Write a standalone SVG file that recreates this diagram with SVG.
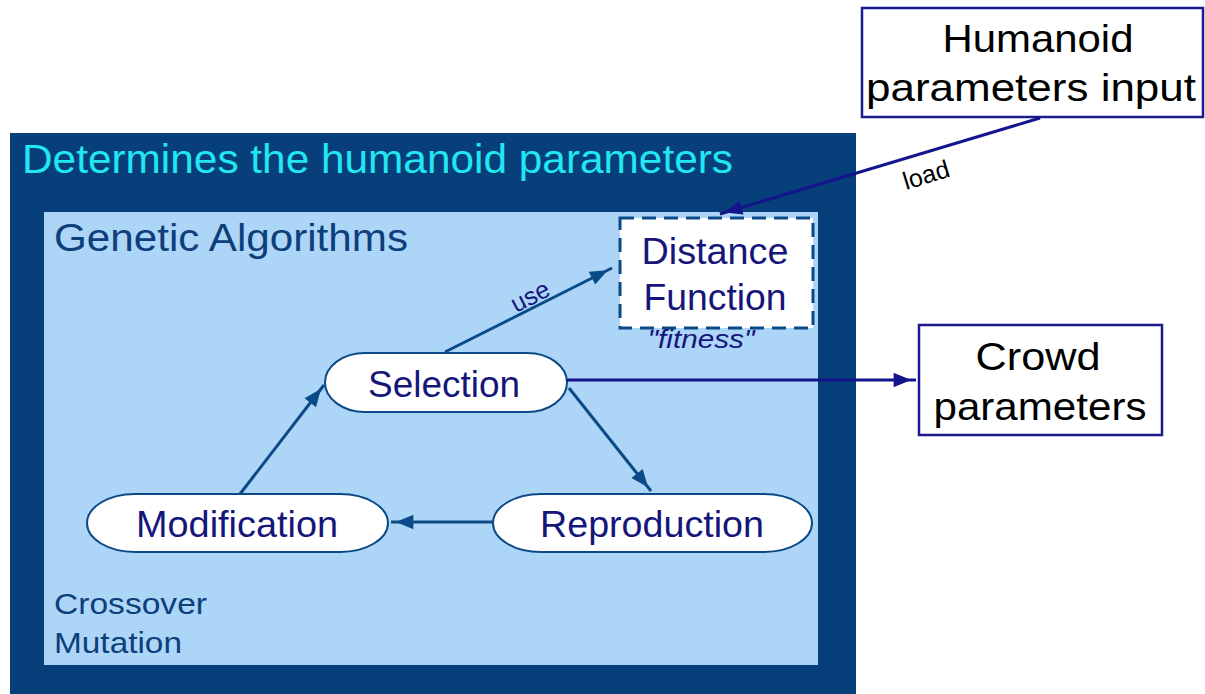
<svg xmlns="http://www.w3.org/2000/svg" width="1205" height="694" viewBox="0 0 1205 694">
<style>
text{font-family:"Liberation Sans",Arial,sans-serif}
.node{fill:#ffffff;stroke:#0b4a86;stroke-width:2}
.ntxt{fill:#16167a;font-size:37px;text-anchor:middle}
.btxt{fill:#000000;font-size:39px;text-anchor:middle}
.box{fill:#ffffff;stroke:#1a1a8c;stroke-width:2.5}
.ed{stroke:#0b4a86;stroke-width:3;fill:none;marker-end:url(#ah)}
.ed2{stroke:#14148c;stroke-width:3;fill:none;marker-end:url(#ah2)}
.lbl{font-size:25px}
</style>
<defs>
<marker id="ah" viewBox="0 0 10 10" refX="9" refY="5" markerWidth="8" markerHeight="8" markerUnits="userSpaceOnUse" orient="auto" overflow="visible">
<path d="M-19,-4 L3,5 L-19,14 Z" fill="#0b4a86"/>
</marker>
<marker id="ah2" viewBox="0 0 10 10" refX="9" refY="5" markerWidth="8" markerHeight="8" markerUnits="userSpaceOnUse" orient="auto" overflow="visible">
<path d="M-19,-4 L3,5 L-19,14 Z" fill="#14148c"/>
</marker>
</defs>
<rect width="1205" height="694" fill="#ffffff"/>
<g id="outer">
<rect x="10" y="133" width="846" height="570" fill="#073f7b"/>
<text x="22" y="173" font-size="40" fill="#22e6f2" textLength="711" lengthAdjust="spacingAndGlyphs">Determines the humanoid parameters</text>
</g>
<g id="genetic">
<rect x="44" y="212" width="774" height="453" fill="#acd5f8"/>
<text x="54" y="251" font-size="38" fill="#0d3f7a" textLength="354" lengthAdjust="spacingAndGlyphs">Genetic Algorithms</text>
<text x="54" y="614" font-size="30" fill="#0d3f7a" textLength="153" lengthAdjust="spacingAndGlyphs">Crossover</text>
<text x="54" y="653" font-size="30" fill="#0d3f7a" textLength="128" lengthAdjust="spacingAndGlyphs">Mutation</text>
</g>
<g id="distance">
<rect x="620" y="218" width="193" height="110" fill="#ffffff" stroke="#0b4a86" stroke-width="3" stroke-dasharray="14,8"/>
<text class="ntxt" x="715" y="264" textLength="147" lengthAdjust="spacingAndGlyphs">Distance</text>
<text class="ntxt" x="715" y="310" textLength="143" lengthAdjust="spacingAndGlyphs">Function</text>
<text x="701" y="348" font-size="25" font-style="italic" fill="#16167a" text-anchor="middle" textLength="107" lengthAdjust="spacingAndGlyphs">"fitness"</text>
</g>
<g id="selection">
<rect class="node" x="325" y="353" width="242" height="59" rx="40" ry="29.5"/>
<text class="ntxt" x="444" y="397" textLength="152" lengthAdjust="spacingAndGlyphs">Selection</text>
</g>
<g id="modification">
<rect class="node" x="87" y="494" width="301" height="58" rx="48" ry="29"/>
<text class="ntxt" x="237" y="537" textLength="202" lengthAdjust="spacingAndGlyphs">Modification</text>
</g>
<g id="reproduction">
<rect class="node" x="493" y="494" width="319" height="58" rx="48" ry="29"/>
<text class="ntxt" x="652" y="537" textLength="224" lengthAdjust="spacingAndGlyphs">Reproduction</text>
</g>
<g id="humanoid-input">
<rect class="box" x="862" y="8" width="341" height="109"/>
<text class="btxt" x="1038" y="52" textLength="191" lengthAdjust="spacingAndGlyphs">Humanoid</text>
<text class="btxt" x="1031" y="101" textLength="330" lengthAdjust="spacingAndGlyphs">parameters input</text>
</g>
<g id="crowd">
<rect class="box" x="919" y="325" width="243" height="110"/>
<text class="btxt" x="1038" y="370" textLength="125" lengthAdjust="spacingAndGlyphs">Crowd</text>
<text class="btxt" x="1040" y="420" textLength="213" lengthAdjust="spacingAndGlyphs">parameters</text>
</g>
<g id="connectors">
<line class="ed2" x1="1040" y1="118" x2="720" y2="214"/>
<text class="lbl" x="0" y="0" fill="#000000" transform="translate(906,190) rotate(-17)">load</text>
<line class="ed" x1="445" y1="352" x2="612" y2="268"/>
<text class="lbl" x="0" y="0" fill="#16167a" transform="translate(516,313) rotate(-27)">use</text>
<line class="ed2" x1="567" y1="380" x2="916" y2="380"/>
<line class="ed" x1="569" y1="388" x2="651" y2="491"/>
<line class="ed" x1="493" y1="522" x2="391" y2="522"/>
<line class="ed" x1="240" y1="494" x2="324" y2="385"/>
</g>
</svg>
